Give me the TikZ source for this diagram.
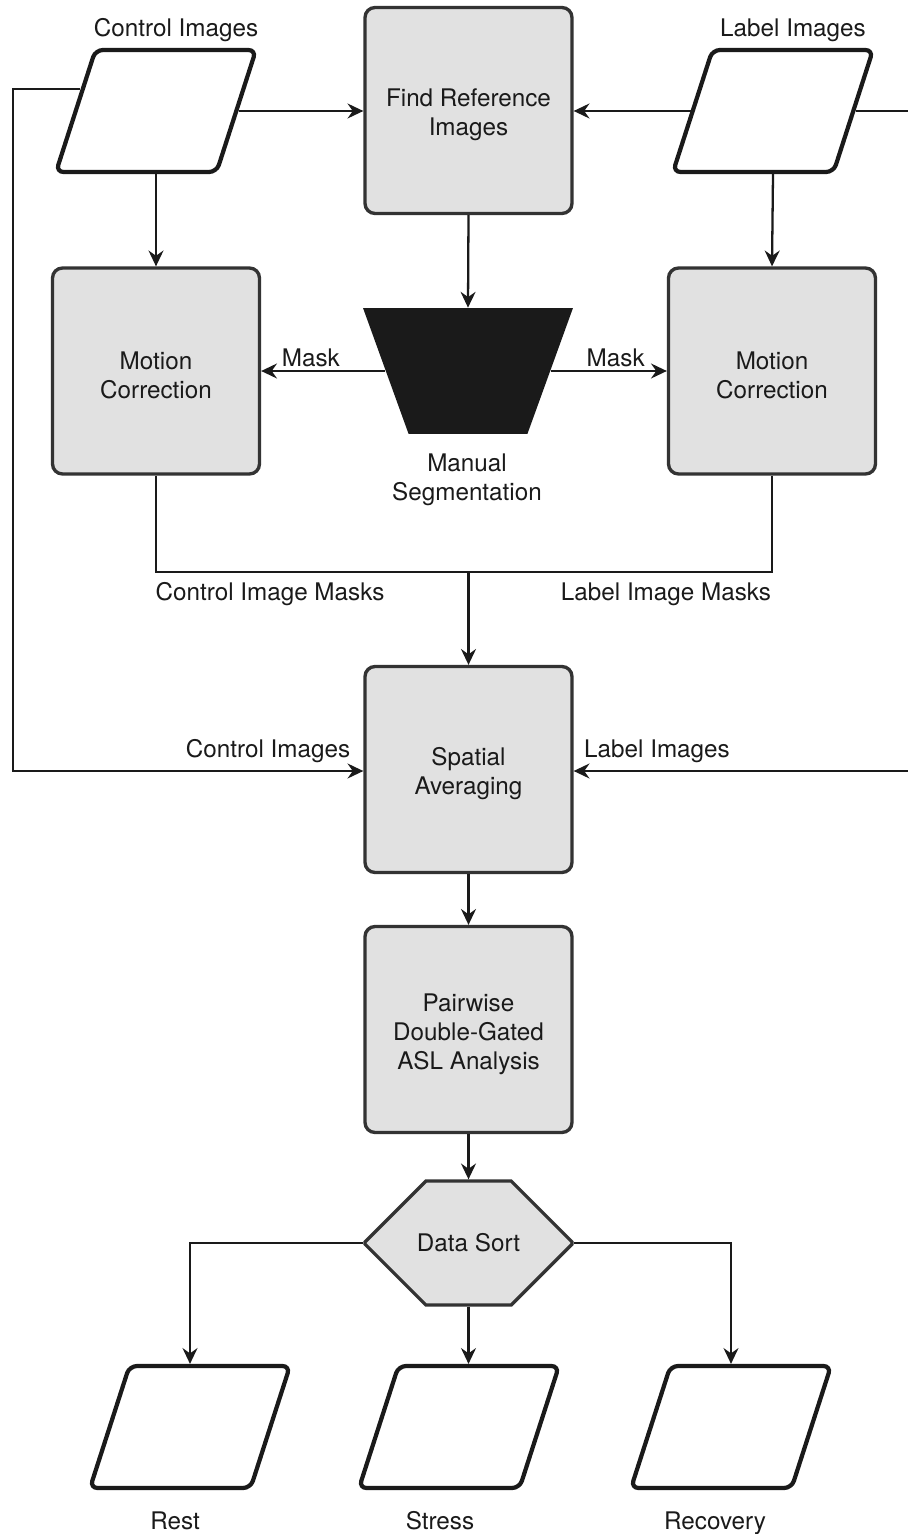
\documentclass[tikz,border=0pt]{standalone}
\usepackage{fontspec}
\setmainfont{TeX Gyre Heros}
\usetikzlibrary{arrows.meta, positioning, shapes.geometric, shapes.misc}
\definecolor{boxgray}{HTML}{E1E1E1}
\definecolor{edgegray}{HTML}{333333}
\definecolor{ink}{HTML}{1A1A1A}
\newcommand{\padtop}{\rule{0pt}{15pt}}

\begin{document}
\begin{tikzpicture}[
    x=0.02cm, y=-0.02cm,
    font=\fontsize{13.8}{16.5}\selectfont, text=ink,
    proc/.style={rectangle, rounded corners=0.2cm,
                 draw=edgegray, fill=boxgray, line width=1.9pt,
                 minimum width=4.14cm, minimum height=4.12cm,
                 align=center, inner sep=0pt},
    io/.style={trapezium, trapezium left angle=72, trapezium right angle=108,
               trapezium stretches=true, rounded corners=0.15cm,
               draw=ink, fill=white, line width=2.4pt,
               minimum width=4cm, minimum height=2.44cm, inner sep=2pt},
    funnel/.style={trapezium, trapezium left angle=111, trapezium right angle=111,
                   trapezium stretches=true, fill=ink, draw=none,
                   minimum width=4.2cm, minimum height=2.52cm, inner sep=2pt},
    sorter/.style={chamfered rectangle, chamfered rectangle xsep=1.1cm,
                   chamfered rectangle ysep=1.24cm,
                   draw=edgegray, fill=boxgray, line width=1.9pt,
                   minimum width=4.14cm, minimum height=2.48cm, inner sep=0pt},
    tag/.style={anchor=base, inner sep=0pt},
    arr/.style={-{Stealth[length=9pt, width=8.5pt, inset=3pt]}, line width=1.3pt, draw=ink},
    wire/.style={line width=1.3pt, draw=ink},
  ]
    \path[use as bounding box, fill=white] (0,0) rectangle (907,1534);

    % inputs
    \node[io] (ci) at (156,111) {};
    \node[io] (li) at (773,111) {};
    \node[tag] (ciT) at (176,37) {Control Images};
    \node[tag] (liT) at (793,37) {Label Images};

    % reference and motion correction
    \node[proc] (find) at (468.5,110.5) {\padtop Find Reference\\Images};
    \node[proc] (mcl) at (156,371) {\padtop Motion\\Correction};
    \node[proc] (mcr) at (772,371) {\padtop Motion\\Correction};
    \node[funnel] (seg) at (468,371) {};
    \node[align=center] (segT) at (467,480) {Manual\\Segmentation};

    \draw[arr] (ci.east) -- (ci.east -| find.west);
    \draw[arr] (li.west) -- (li.west -| find.east);
    \draw[arr] (ci.south) -- (mcl.north);
    \draw[arr] (li.south) -- (mcr.north);
    \draw[arr] (find.south) -- (seg.north);
    \draw[arr] (seg.west) -- node[pos=0.6, above, inner sep=1.5pt] (maskL) {Mask} (mcl.east);
    \draw[arr] (seg.east) -- node[pos=0.56, above, inner sep=1.5pt] (maskR) {Mask} (mcr.west);

    % masks into averaging
    \coordinate (merge) at (468.5,572);
    \node[proc] (sa) at (468.5,769.5) {\padtop Spatial\\Averaging};
    \draw[wire] (mcl.south) |- (merge);
    \draw[wire] (mcr.south) |- (merge);
    \draw[arr] (merge) -- (sa.north);
    \node[tag] (cmT) at (270,600) {Control Image Masks};
    \node[tag] (lmT) at (666,600) {Label Image Masks};

    % raw images loop round
    \coordinate (lloop) at (13,771);
    \coordinate (rloop) at (912,771);
    \draw[arr] (ci.164) -| (lloop) -- (lloop -| sa.west);
    \draw[arr] (li.east) -| (rloop) -- (rloop -| sa.east);
    \node[tag] (ciT2) at (268,757) {Control Images};
    \node[tag] (liT2) at (657,757) {Label Images};

    % analysis and sorting
    \node[proc] (pw) at (468.5,1029.5) {\padtop Pairwise\\Double-Gated\\ASL Analysis};
    \node[sorter] (ds) at (468.5,1243) {Data Sort};
    \draw[arr] (sa.south) -- (pw.north);
    \draw[arr] (pw.south) -- (ds.north);

    \node[io] (rest) at (190,1427) {};
    \node[io] (stress) at (459,1427) {};
    \node[io] (rec) at (731,1427) {};
    \draw[arr] (ds.west) -| (rest.north);
    \draw[arr] (ds.south) -- (ds.south |- stress.north);
    \draw[arr] (ds.east) -| (rec.north);

    \node[tag] (restT) at (175,1529) {Rest};
    \node[tag] (stressT) at (440,1529) {Stress};
    \node[tag] (recT) at (715,1529) {Recovery};
\end{tikzpicture}
\end{document}
